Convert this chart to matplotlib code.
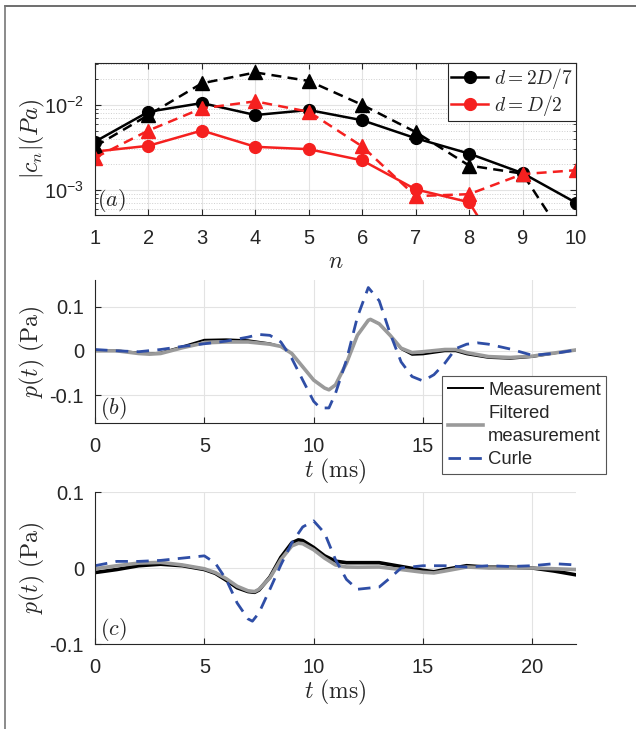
import numpy as np
import matplotlib
matplotlib.use("Agg")
import matplotlib.pyplot as plt
from matplotlib.lines import Line2D
from matplotlib.ticker import LogLocator, NullFormatter, FixedLocator

plt.rcParams['font.family'] = ['Liberation Sans', 'DejaVu Sans']
plt.rcParams['mathtext.fontset'] = 'custom'
plt.rcParams['mathtext.rm'] = 'Liberation Sans'
plt.rcParams['mathtext.it'] = 'Liberation Sans:italic'
plt.rcParams['mathtext.bf'] = 'Liberation Sans:bold'

# panel (a): Fourier coefficient magnitudes
n = [1, 2, 3, 4, 5, 6, 7, 8, 9, 10]
c_27_meas = [3.70e-3, 8.3e-3, 1.05e-2, 7.6e-3, 8.7e-3, 6.6e-3, 4.06e-3, 2.68e-3, 1.58e-3, 7.1e-4]
c_27_curle = [3.25e-3, 7.6e-3, 1.79e-2, 2.40e-2, 1.91e-2, 1.0e-2, 4.8e-3, 1.94e-3, 1.56e-3, 1.7e-4]
c_12_meas = [2.83e-3, 3.31e-3, 5.0e-3, 3.22e-3, 3.02e-3, 2.23e-3, 1.02e-3, 7.2e-4, 7e-5, 6e-5]
c_12_curle = [2.40e-3, 5.0e-3, 9.1e-3, 1.10e-2, 8.3e-3, 3.25e-3, 8.5e-4, 8.95e-4, 1.54e-3, 1.71e-3]

# panel (b): pressure signals, d = 2D/7
tb = [0, 1, 2, 2.5, 3, 4, 5, 6, 7, 8, 8.5, 9, 9.5, 10, 10.5, 10.7, 11, 11.5, 12, 12.5, 12.6,
      13, 13.5, 14, 14.5, 15, 16, 16.5, 17, 18, 19, 20, 21, 22]
pb_filt = [0.0, 0.0, -0.006, -0.0075, -0.006, 0.007, 0.018, 0.020, 0.020, 0.015, 0.010, -0.006,
           -0.036, -0.066, -0.084, -0.088, -0.077, -0.028, 0.035, 0.069, 0.071, 0.061, 0.035,
           0.006, -0.004, -0.002, 0.003, 0.003, -0.004, -0.013, -0.015, -0.012, -0.005, 0.002]
pb_meas = [0.002, 0.001, -0.004, -0.006, -0.004, 0.010, 0.025, 0.026, 0.024, 0.017, 0.010, -0.006,
           -0.036, -0.066, -0.084, -0.088, -0.077, -0.028, 0.035, 0.069, 0.071, 0.061, 0.035,
           0.004, -0.009, -0.008, -0.001, -0.001, -0.008, -0.016, -0.018, -0.014, -0.006, 0.002]
tb_curle = [0, 1, 2, 3, 4, 5, 6, 7, 7.5, 8, 8.5, 9, 9.5, 10, 10.3, 10.7, 11, 11.5, 12, 12.5,
            13, 13.5, 14, 14.5, 15, 15.5, 16, 16.5, 17, 17.5, 18, 19, 20, 21, 22]
pb_curle = [0.003, 0.0, -0.002, 0.003, 0.010, 0.016, 0.022, 0.031, 0.037, 0.035, 0.020, -0.017,
            -0.066, -0.114, -0.129, -0.129, -0.096, -0.021, 0.076, 0.143, 0.113, 0.039, -0.025,
            -0.058, -0.068, -0.054, -0.028, 0.005, 0.015, 0.018, 0.015, 0.004, -0.010, -0.006, 0.002]

# panel (c): pressure signals, d = D/2
tc = [0, 1, 2, 3, 4, 5, 5.5, 6, 6.5, 7, 7.3, 7.5, 8, 8.5, 9, 9.3, 9.5, 10, 10.5, 11, 11.5,
      12, 13, 14, 15, 15.5, 16, 17, 18, 19, 20, 21, 22]
pc_filt = [-0.001, 0.003, 0.0065, 0.0074, 0.004, -0.001, -0.006, -0.014, -0.024, -0.030, -0.031,
           -0.028, -0.013, 0.011, 0.029, 0.0326, 0.032, 0.024, 0.013, 0.004, 0.0013, 0.001,
           0.0013, -0.002, -0.0056, -0.0065, -0.004, 0.0013, 0.0, 0.0, 0.0, -0.001, -0.002]
pc_meas = [-0.006, -0.002, 0.003, 0.005, 0.003, -0.002, -0.007, -0.016, -0.026, -0.031, -0.032,
           -0.029, -0.012, 0.014, 0.033, 0.037, 0.036, 0.027, 0.016, 0.009, 0.007, 0.007,
           0.007, 0.002, -0.003, -0.005, -0.002, 0.003, 0.001, 0.001, 0.0, -0.004, -0.009]
tc_curle = [0, 1, 2, 3, 4, 5, 5.5, 6, 6.5, 7, 7.2, 7.5, 8, 8.5, 9, 9.5, 10, 10.5, 11, 11.5,
            12, 13, 13.5, 14, 15, 16, 17, 18, 19, 20, 21, 22]
pc_curle = [0.003, 0.0087, 0.0087, 0.010, 0.013, 0.016, 0.0065, -0.015, -0.046, -0.067, -0.070,
            -0.059, -0.028, 0.004, 0.033, 0.054, 0.062, 0.046, 0.011, -0.015, -0.028, -0.025,
            -0.013, 0.0, 0.003, 0.003, 0.0013, 0.003, 0.002, 0.003, 0.0057, 0.004]

RED = '#f5201f'
BLUE = '#2f4ea6'
GRAY = '#9a9a9a'
TXT = '#262626'
FS = 14.5

fig = plt.figure(figsize=(6.36, 7.29), dpi=100)
W, H = 636.0, 729.0

def box(l, t, r, b):
    return [l / W, 1 - b / H, (r - l) / W, (b - t) / H]

def style(ax):
    ax.tick_params(direction='in', length=4, width=0.8, colors=TXT, labelsize=FS)
    ax.tick_params(axis='x', pad=10)
    ax.tick_params(axis='y', pad=8)
    for s in ax.spines.values():
        s.set_color('#262626')
        s.set_linewidth(0.8)
    ax.grid(True, which='major', color='#e3e3e3', lw=0.8)
    ax.set_axisbelow(True)

# (a)
ax1 = fig.add_axes(box(95, 63, 576, 215))
style(ax1)
ax1.set_yscale('log')
ax1.plot(n, c_27_meas, '-o', color='black', lw=1.8, ms=8.5, label=r'$d=2D/7$')
ax1.plot(n, c_12_meas, '-o', color=RED, lw=1.8, ms=8.5, label=r'$d=D/2$')
ax1.plot(n, c_27_curle, '--^', color='black', lw=1.8, ms=9.5, dashes=(4, 2.5))
ax1.plot(n, c_12_curle, '--^', color=RED, lw=1.8, ms=9.5, dashes=(4, 2.5))
ax1.set_xlim(1, 10)
ax1.set_ylim(5.1e-4, 3.1e-2)
ax1.set_xticks(n)
ax1.yaxis.set_major_locator(FixedLocator([1e-3, 1e-2]))
ax1.yaxis.set_minor_locator(LogLocator(base=10, subs=np.arange(2, 10)))
ax1.yaxis.set_minor_formatter(NullFormatter())
ax1.grid(True, which='minor', axis='y', color='#cfcfcf', lw=0.7, ls=':')
ax1.tick_params(which='both', direction='in', top=True, right=True, colors=TXT)
ax1.tick_params(which='minor', length=2.5)
ax1.set_xlabel(r'$n$', fontsize=17, color=TXT, math_fontfamily='cm', labelpad=2)
ax1.set_ylabel(r'$|c_n|(Pa)$', fontsize=17, color=TXT, math_fontfamily='cm', labelpad=-2)
ax1.text(0.005, 0.06, r'$(a)$', transform=ax1.transAxes, fontsize=16, color=TXT,
         math_fontfamily='cm')
leg1 = ax1.legend(loc='upper right', borderaxespad=0, fontsize=14, fancybox=False,
                  edgecolor='#262626', framealpha=1, handlelength=1.9, handletextpad=0.3,
                  borderpad=0.15, labelspacing=0.1)
leg1.get_frame().set_linewidth(0.8)
for t in leg1.get_texts():
    t.set_math_fontfamily('cm')
    t.set_color(TXT)

# (b) and (c)
def signal_panel(rect, t_m, p_m, p_f, t_c, p_c, ylim, xlabels, tag, meas_lw):
    ax = fig.add_axes(rect)
    style(ax)
    ax.spines['top'].set_visible(False)
    ax.spines['right'].set_visible(False)
    ax.plot(t_m, p_m, color='black', lw=meas_lw, label='Measurement')
    ax.plot(t_m, p_f, color=GRAY, lw=2.6, label='Filtered\nmeasurement')
    ax.plot(t_c, p_c, color=BLUE, lw=2.0, dashes=(4.5, 3), label='Curle')
    ax.set_xlim(0, 22)
    ax.set_ylim(*ylim)
    ax.set_xticks([0, 5, 10, 15, 20])
    ax.set_xticklabels(xlabels)
    ax.set_yticks([-0.1, 0, 0.1])
    ax.set_yticklabels(['-0.1', '0', '0.1'])
    ax.set_xlabel(r'$t\ (\mathrm{ms})$', fontsize=17, color=TXT, math_fontfamily='cm', labelpad=1)
    ax.set_ylabel(r'$p(t)\ (\mathrm{Pa})$', fontsize=17, color=TXT, math_fontfamily='cm',
                  labelpad=2)
    ax.text(0.01, 0.06, tag, transform=ax.transAxes, fontsize=16, color=TXT,
            math_fontfamily='cm')
    return ax

# the "20" label of (b) sits under the legend
ax2 = signal_panel(box(95, 280, 576, 423), tb, pb_meas, pb_filt, tb_curle, pb_curle,
                   (-0.163, 0.16), ['0', '5', '10', '15', ''], r'$(b)$', 1.4)
ax3 = signal_panel(box(95, 492, 576, 644), tc, pc_meas, pc_filt, tc_curle, pc_curle,
                   (-0.1, 0.1), ['0', '5', '10', '15', '20'], r'$(c)$', 2.6)

leg2 = ax2.legend(loc='upper left', bbox_to_anchor=(442 / W, 1 - 376 / H),
                  bbox_transform=fig.transFigure, borderaxespad=0, fontsize=13.3,
                  fancybox=False, edgecolor='#555555', framealpha=1, handlelength=1.9,
                  handletextpad=0.3, borderpad=0.3, labelspacing=0.35)
leg2.get_frame().set_linewidth(0.8)
leg2.set_zorder(10)
for t in leg2.get_texts():
    t.set_color(TXT)
    t.set_linespacing(1.45)

# page frame lines at top and left
fig.add_artist(Line2D([5 / W, 1], [1 - 5.5 / H, 1 - 5.5 / H], color='#555555', lw=1.2))
fig.add_artist(Line2D([5 / W, 5 / W], [0, 1 - 5.5 / H], color='#777777', lw=1.2))

fig.savefig('out.png', dpi=100)
